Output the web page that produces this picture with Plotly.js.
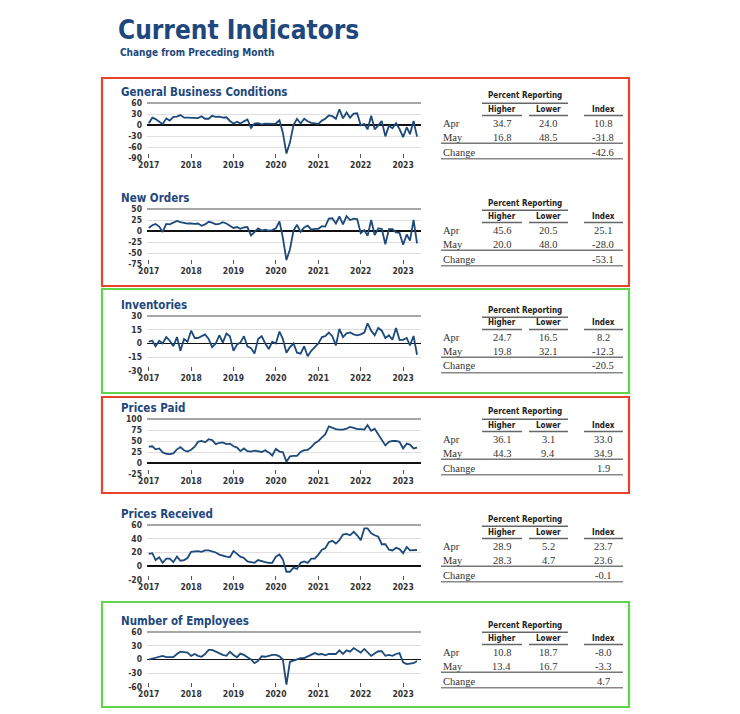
<!DOCTYPE html>
<html><head><meta charset="utf-8">
<script src="https://cdn.plot.ly/plotly-3.0.1.min.js"></script>
<style>html,body{margin:0;padding:0;background:#fff}#chart{width:740px;height:714px}</style>
</head><body><div id="chart"></div>
<script>
const mainTitle = "Current Indicators";
const subTitle = "Change from Preceding Month";
const panelTitles = ["General Business Conditions", "New Orders", "Inventories", "Prices Paid", "Prices Received", "Number of Employees"];

// Monthly index values, Jan 2017 - May 2023
const generalBusiness = [
  5, 20, 16, 8, 2, 18, 12, 22, 23, 27, 20, 20,
  20, 20, 19, 24, 17, 17, 25, 22, 23, 20, 21, 11,
  4, 9, 4, 10, 15, -8, 4, 5, 2, 4, 3, 3,
  4, 13, -21, -78, -48, 0, 17, 4, 17, 10, 6, 5,
  3, 12, 17, 26, 24, 17, 43, 18, 34, 20, 31, 32,
  -1, 3, -12, 25, -12, -1, 11, -31, -2, -9, 5, -11,
  -33, -6, -25, 10.8, -31.8];
const newOrders = [
  7, 13, 16, 10, -2, 16, 15, 20, 23, 20, 18, 17,
  17, 16, 17, 12, 15, 21, 19, 15, 16, 20, 17, 12,
  7, 9, 5, 8, 9, -10, -3, 6, 1, 3, 1, 2,
  6, 22, -15, -66, -42, 1, 14, -2, 8, 12, 3, 5,
  5, 11, 10, 28, 29, 17, 33, 15, 34, 25, 28, 27,
  -5, 2, -11, 25, -9, 6, 5, -30, 4, 4, -3, -4,
  -31, -8, -22, 25.1, -28.0];
const inventories = [
  2, 3, -3, 3, 0, 7, 3, -3, 7, -8, 5, 2,
  14, 6, 6, 8, 10, 5, -4, 0, 9, 1, 11, 8,
  -8, -1, 1, 8, -3, -5, -11, 5, 8, 0, -6, 2,
  0, 13, 5, -10, -4, 0, -10, -11, -3, -14, -8, -4,
  0, 7, 8, 12, 8, -2, 16, 7, 11, 12, 10, 9,
  10, 12, 22, 14, 9, 17, 14, 6, 9, 4, 17, 4,
  4, 6, -2, 8.2, -12.3];
const pricesPaid = [
  37, 38, 31, 33, 24, 21, 20, 22, 31, 36, 29, 26,
  30, 37, 48, 50, 47, 54, 52, 43, 46, 47, 43, 44,
  38, 35, 27, 33, 27, 26, 28, 26, 25, 29, 24, 17,
  32, 26, 25, 3, 15, 16, 16, 25, 29, 30, 36, 45,
  50, 58, 65, 83, 80, 77, 76, 76, 78, 82, 80, 77,
  77, 76, 86, 73, 78, 65, 55, 40, 48, 50, 50, 48,
  33, 44, 42, 33.0, 34.9];
const pricesReceived = [
  18, 19, 9, 13, 5, 11, 11, 6, 14, 8, 9, 12,
  21, 22, 22, 21, 23, 23, 22, 20, 17, 15, 14, 13,
  22, 18, 14, 12, 7, 6, 5, 9, 7, 6, 5, 5,
  14, 17, 10, -8, -8, -2, -4, 5, 7, 5, 11, 11,
  17, 24, 26, 35, 37, 33, 38, 46, 47, 45, 50, 45,
  38, 55, 55, 48, 45, 43, 32, 32, 24, 23, 27, 25,
  19, 28, 23, 23.7, 23.6];
const employees = [
  0, 2, 5, 7, 8, 5, 5, 5, 12, 17, 16, 15,
  8, 12, 8, 6, 12, 21, 21, 17, 13, 10, 8, 17,
  10, 5, 13, 10, 5, 0, -8, -3, 7, 6, 8, 10,
  10, 7, 0, -55, -5, -2, 1, 3, 3, 7, 10, 14,
  11, 12, 9, 12, 12, 12, 20, 12, 20, 17, 25, 21,
  15, 23, 15, 8, 13, 18, 18, 8, 10, 8, 12, 14,
  -6, -10, -9, -8.0, -3.3];

// y-axis tick labels for each panel
const yTicks = [
  [60, 30, 0, -30, -60, -90],
  [50, 25, 0, -25, -50, -75],
  [30, 15, 0, -15, -30],
  [100, 75, 50, 25, 0, -25],
  [60, 40, 20, 0, -20],
  [60, 30, 0, -30, -60]
];

// Table values
const rowLabels = ["Apr", "May", "Change"];
const headerLabels = ["Higher", "Lower", "Index"];
const groupLabel = "Percent Reporting";
const higherApr = [34.7, 45.6, 24.7, 36.1, 28.9, 10.8];
const lowerApr  = [24.0, 20.5, 16.5, 3.1, 5.2, 18.7];
const indexApr  = [10.8, 25.1, 8.2, 33.0, 23.7, -8.0];
const higherMay = [16.8, 20.0, 19.8, 44.3, 28.3, 13.4];
const lowerMay  = [48.5, 48.0, 32.1, 9.4, 4.7, 16.7];
const indexMay  = [-31.8, -28.0, -12.3, 34.9, 23.6, -3.3];
const indexChange = [-42.6, -53.1, -20.5, 1.9, -0.1, 4.7];

const W = 740, H = 714;
const px = x => x / W;
const py = y => 1 - y / H;

const months = [];
for (let y = 2017; y <= 2023; y++) {
  for (let m = 1; m <= 12; m++) {
    if (y === 2023 && m > 5) break;
    months.push(y + "-" + String(m).padStart(2, "0") + "-01");
  }
}

const series = [generalBusiness, newOrders, inventories, pricesPaid, pricesReceived, employees];
const titleY = [92, 198, 305, 408, 514, 621];
const prY = [96, 203, 310, 412, 519, 625];
const boxes = [
  {y0: 78, y1: 286, c: "#e8412f"},
  {y0: 289, y1: 393, c: "#5fd64a"},
  {y0: 397, y1: 493, c: "#e8412f"},
  {y0: 602, y1: 707, c: "#5fd64a"}
];

const NARROW = "DejaVu Sans Condensed, Liberation Sans Narrow, Roboto, sans-serif";
const SERIF = "Liberation Serif, Times New Roman, serif";
const BLUE = "#1d477d";
const LINE = "#1d4a7a";

const traces = [];
const layout = {
  width: W, height: H,
  margin: {l: 0, r: 0, t: 0, b: 0},
  paper_bgcolor: "#fff", plot_bgcolor: "rgba(0,0,0,0)",
  showlegend: false,
  annotations: [],
  shapes: []
};

layout.annotations.push({
  text: mainTitle, xref: "paper", yref: "paper", x: px(116), y: py(30),
  xanchor: "left", yanchor: "middle", showarrow: false,
  font: {family: NARROW, size: 26, color: BLUE, weight: "bold"}
});
layout.annotations.push({
  text: subTitle, xref: "paper", yref: "paper", x: px(118), y: py(53),
  xanchor: "left", yanchor: "middle", showarrow: false,
  font: {family: NARROW, size: 10, color: BLUE, weight: "bold"}
});

boxes.forEach(b => {
  layout.shapes.push({type: "rect", xref: "paper", yref: "paper",
    x0: px(102), x1: px(629), y0: py(b.y0), y1: py(b.y1),
    line: {color: b.c, width: 2.2}, fillcolor: "rgba(0,0,0,0)"});
});

const fmt = v => v.toFixed(1);

series.forEach((vals, i) => {
  const n = i === 0 ? "" : String(i + 1);
  const top = titleY[i] + 11, bot = top + 55;
  const tv = yTicks[i];
  traces.push({
    x: months, y: vals, type: "scatter", mode: "lines",
    xaxis: "x" + n, yaxis: "y" + n,
    line: {color: LINE, width: 1.8}, hoverinfo: "skip"
  });
  layout["xaxis" + n] = {
    domain: [px(147), px(421)], anchor: "y" + n, type: "date",
    range: ["2016-12-17", "2023-06-04"],
    tick0: "2017-01-01", dtick: "M12", tickformat: "%Y",
    ticks: "inside", ticklen: 4, tickwidth: 1, tickcolor: "#555",
    showgrid: false, zeroline: false, showline: false,
    tickfont: {family: NARROW, size: 8.5, color: "#333", weight: "bold"},
    fixedrange: true
  };
  layout["yaxis" + n] = {
    domain: [py(bot), py(top)], anchor: "x" + n,
    range: [Math.min(...tv), Math.max(...tv)],
    tickmode: "array", tickvals: tv, ticktext: tv.map(String),
    showgrid: true, gridcolor: "#dedede", gridwidth: 1,
    zeroline: true, zerolinecolor: "#111", zerolinewidth: 1.6,
    showline: false, ticks: "", ticklabelstandoff: 4,
    tickfont: {family: NARROW, size: 8.5, color: "#333", weight: "bold"},
    fixedrange: true
  };
  // darker top border line of each plot
  layout.shapes.push({type: "line", xref: "x" + n + " domain", yref: "y" + n + " domain",
    x0: 0, x1: 1, y0: 1, y1: 1, line: {color: "#8a8a8a", width: 1.5}, layer: "below"});

  // panel title
  layout.annotations.push({
    text: panelTitles[i], xref: "paper", yref: "paper", x: px(119), y: py(titleY[i]),
    xanchor: "left", yanchor: "middle", showarrow: false,
    font: {family: NARROW, size: 11.5, color: BLUE, weight: "bold"}
  });

  // table
  const p = prY[i];
  const colX = [502, 548, 603];
  const hdrFont = {family: NARROW, size: 8, color: "#222", weight: "bold"};
  const numFont = {family: SERIF, size: 10.5, color: "#333"};
  const lblFont = {family: SERIF, size: 10.5, color: "#333"};
  const ann = (text, x, y, font, xa) => layout.annotations.push({
    text: text, xref: "paper", yref: "paper", x: px(x), y: py(y),
    xanchor: xa || "center", yanchor: "middle", showarrow: false, font: font
  });
  ann(groupLabel, 525, p, hdrFont);
  headerLabels.forEach((h, k) => ann(h, colX[k], p + 13, hdrFont));
  ann(rowLabels[0], 441, p + 27.5, lblFont, "left");
  ann(rowLabels[1], 441, p + 41.5, lblFont, "left");
  ann(rowLabels[2], 441, p + 56, lblFont, "left");
  ann(fmt(higherApr[i]), colX[0], p + 27.5, numFont);
  ann(fmt(lowerApr[i]), colX[1], p + 27.5, numFont);
  ann(fmt(indexApr[i]), colX[2], p + 27.5, numFont);
  ann(fmt(higherMay[i]), colX[0], p + 41.5, numFont);
  ann(fmt(lowerMay[i]), colX[1], p + 41.5, numFont);
  ann(fmt(indexMay[i]), colX[2], p + 41.5, numFont);
  ann(fmt(indexChange[i]), colX[2], p + 56, numFont);

  const hl = (x0, x1, y, w, c) => layout.shapes.push({type: "line", xref: "paper", yref: "paper",
    x0: px(x0), x1: px(x1), y0: py(y), y1: py(y), line: {color: c || "#666", width: w || 1.4}});
  hl(482, 568, p + 7.3);
  hl(482, 522, p + 19.5);
  hl(529, 568, p + 19.5);
  hl(584, 623, p + 19.5);
  hl(441, 623, p + 47.3, 1.4, "#777");
  hl(441, 623, p + 62.7, 1.4, "#888");
});

Plotly.newPlot("chart", traces, layout, {staticPlot: true, displayModeBar: false});
</script>
</body></html>
